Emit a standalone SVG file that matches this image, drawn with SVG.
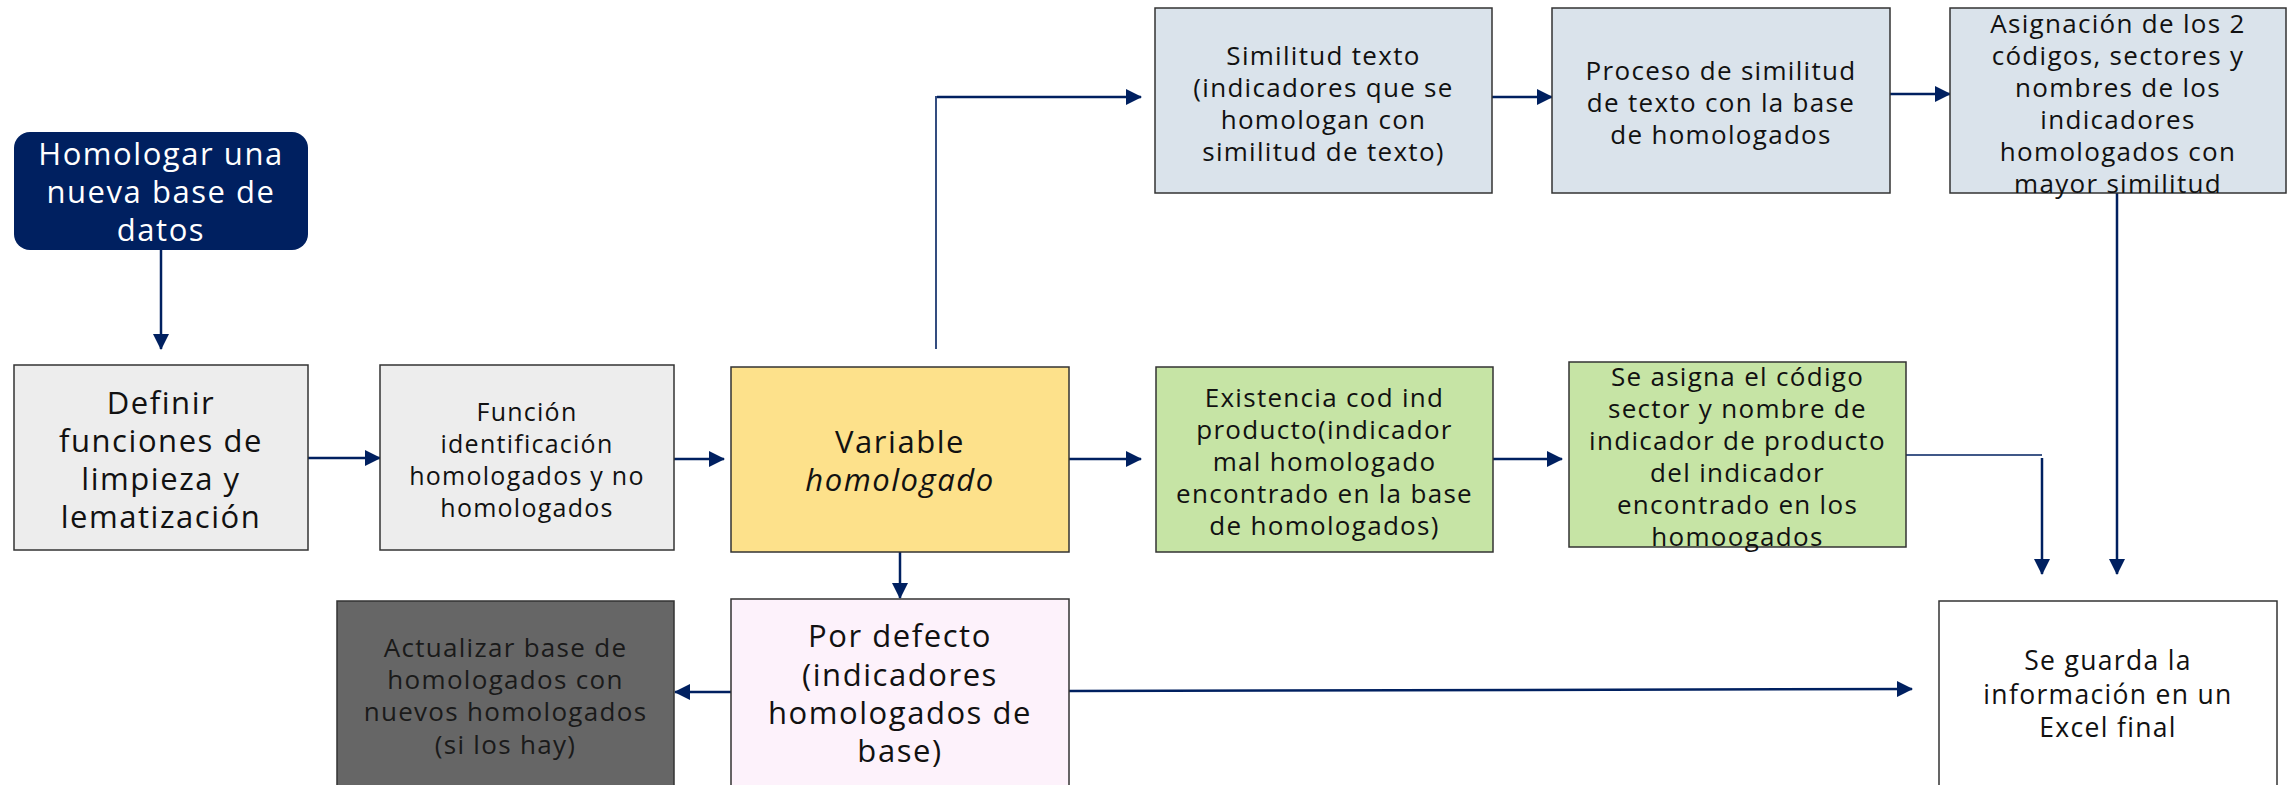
<svg xmlns="http://www.w3.org/2000/svg" width="2288" height="785" viewBox="0 0 2288 785">
<style>
.box{stroke:#333;stroke-width:1.5}
.t{font-family:"Open Sans","Liberation Sans",sans-serif;fill:#111;text-anchor:middle;dominant-baseline:central;letter-spacing:0.05em}
.s25{font-size:26px}
.s24{font-size:25px}
.s30{font-size:31px}
.c{fill:none;stroke:#002060;stroke-width:2.5}
.thin{fill:none;stroke:#002060;stroke-width:1.6}
</style>
<defs>
<marker id="ah" markerUnits="userSpaceOnUse" markerWidth="16" markerHeight="16" viewBox="0 0 16 16" refX="15" refY="8" orient="auto">
<path d="M0,0 L16,8 L0,16 Z" fill="#002060"/>
</marker>
</defs>
<rect width="2288" height="785" fill="#fff"/>

<g id="connectors">
<path class="c" d="M161,250 V349" marker-end="url(#ah)"/>
<path class="c" d="M308,458 H380" marker-end="url(#ah)"/>
<path class="c" d="M486,459 H724" marker-end="url(#ah)"/>
<path class="c" d="M1069,459 H1141" marker-end="url(#ah)"/>
<path class="thin" d="M936,349 V96"/>
<path class="c" d="M937,97 H1141" marker-end="url(#ah)"/>
<path class="c" d="M1480,97 H1552" marker-end="url(#ah)"/>
<path class="c" d="M1878,94 H1950" marker-end="url(#ah)"/>
<path class="c" d="M2117,193 V574" marker-end="url(#ah)"/>
<path class="c" d="M1492,459 H1562" marker-end="url(#ah)"/>
<path class="thin" d="M1906,455 H2042"/>
<path class="c" d="M2042,458 V574" marker-end="url(#ah)"/>
<path class="c" d="M900,552 V598" marker-end="url(#ah)"/>
<path class="c" d="M731,692 H675" marker-end="url(#ah)"/>
<path class="c" d="M1069,691 L1912,689" marker-end="url(#ah)"/>
</g>

<g id="homologar">
<rect x="14" y="132" width="294" height="118" rx="16" fill="#002060"/>
<text class="t s30" x="161" style="fill:#fff"><tspan x="161" y="153">Homologar una</tspan><tspan x="161" y="191">nueva base de</tspan><tspan x="161" y="229">datos</tspan></text>
</g>

<g id="definir">
<rect class="box" x="14" y="365" width="294" height="185" fill="#EDEDED"/>
<text class="t s30"><tspan x="161" y="402">Definir</tspan><tspan x="161" y="440">funciones de</tspan><tspan x="161" y="478">limpieza y</tspan><tspan x="161" y="516">lematización</tspan></text>
</g>

<g id="funcion">
<rect class="box" x="380" y="365" width="294" height="185" fill="#EDEDED"/>
<text class="t s24"><tspan x="527" y="411">Función</tspan><tspan x="527" y="443">identificación</tspan><tspan x="527" y="475">homologados y no</tspan><tspan x="527" y="507">homologados</tspan></text>
</g>

<g id="variable">
<rect class="box" x="731" y="367" width="338" height="185" fill="#FDE18B"/>
<text class="t s30"><tspan x="900" y="441">Variable</tspan><tspan x="900" y="479" font-style="italic">homologado</tspan></text>
</g>

<g id="pordefecto">
<rect class="box" x="731" y="599" width="338" height="190" fill="#FDF2FB"/>
<text class="t s30"><tspan x="900" y="635">Por defecto</tspan><tspan x="900" y="674">(indicadores</tspan><tspan x="900" y="712">homologados de</tspan><tspan x="900" y="750">base)</tspan></text>
</g>

<g id="actualizar">
<rect class="box" x="337" y="601" width="337" height="190" fill="#666666"/>
<text class="t s25" style="fill:#1a1a1a"><tspan x="505.5" y="647">Actualizar base de</tspan><tspan x="505.5" y="679">homologados con</tspan><tspan x="505.5" y="711">nuevos homologados</tspan><tspan x="505.5" y="744">(si los hay)</tspan></text>
</g>

<g id="similitud">
<rect class="box" x="1155" y="8" width="337" height="185" fill="#DAE3EB"/>
<text class="t s25"><tspan x="1323.5" y="55">Similitud texto</tspan><tspan x="1323.5" y="87">(indicadores que se</tspan><tspan x="1323.5" y="119">homologan con</tspan><tspan x="1323.5" y="151">similitud de texto)</tspan></text>
</g>

<g id="proceso">
<rect class="box" x="1552" y="8" width="338" height="185" fill="#DAE3EB"/>
<text class="t s25"><tspan x="1721" y="70">Proceso de similitud</tspan><tspan x="1721" y="102">de texto con la base</tspan><tspan x="1721" y="134">de homologados</tspan></text>
</g>

<g id="asignacion">
<rect class="box" x="1950" y="8" width="336" height="185" fill="#DAE3EB"/>
<text class="t s25"><tspan x="2118" y="23">Asignación de los 2</tspan><tspan x="2118" y="55">códigos, sectores y</tspan><tspan x="2118" y="87">nombres de los</tspan><tspan x="2118" y="119">indicadores</tspan><tspan x="2118" y="151">homologados con</tspan><tspan x="2118" y="183">mayor similitud</tspan></text>
</g>

<g id="existencia">
<rect class="box" x="1156" y="367" width="337" height="185" fill="#C6E4A5"/>
<text class="t s25"><tspan x="1324.5" y="397">Existencia cod ind</tspan><tspan x="1324.5" y="429">producto(indicador</tspan><tspan x="1324.5" y="461">mal homologado</tspan><tspan x="1324.5" y="493">encontrado en la base</tspan><tspan x="1324.5" y="525">de homologados)</tspan></text>
</g>

<g id="seasigna">
<rect class="box" x="1569" y="362" width="337" height="185" fill="#C6E4A5"/>
<text class="t s25"><tspan x="1737.5" y="376">Se asigna el código</tspan><tspan x="1737.5" y="408">sector y nombre de</tspan><tspan x="1737.5" y="440">indicador de producto</tspan><tspan x="1737.5" y="472">del indicador</tspan><tspan x="1737.5" y="504">encontrado en los</tspan><tspan x="1737.5" y="536">homoogados</tspan></text>
</g>

<g id="seguarda">
<rect class="box" x="1939" y="601" width="338" height="190" fill="#FFFFFF"/>
<text class="t" font-size="26.5"><tspan x="2108" y="660">Se guarda la</tspan><tspan x="2108" y="693.5">información en un</tspan><tspan x="2108" y="727">Excel final</tspan></text>
</g>
</svg>
